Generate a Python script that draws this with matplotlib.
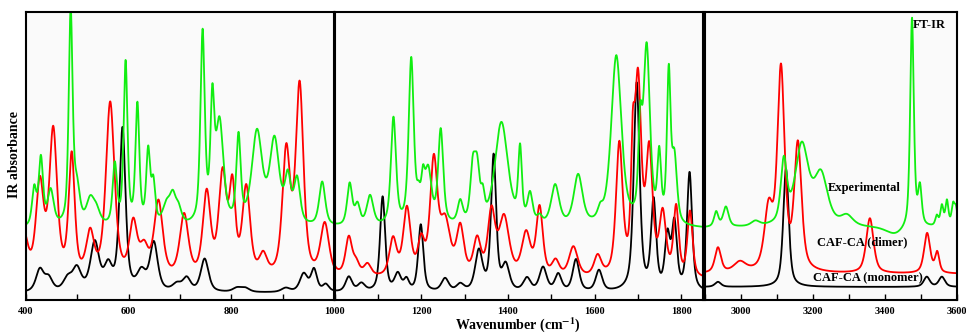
import numpy as np
import matplotlib
matplotlib.use("Agg")
import matplotlib.pyplot as plt

plt.rcParams['font.family'] = ['Liberation Serif', 'DejaVu Serif']
plt.rcParams['font.weight'] = 'bold'
plt.rcParams['mathtext.fontset'] = 'stix'

# panel ranges (cm-1)
panels = [(400, 1000), (1000, 1850), (2900, 3600)]
tick_labels = [[400, 600, 800, 1000], [1200, 1400, 1600, 1800], [3000, 3200, 3400, 3600]]

# peaks: centre (cm-1), height above baseline, half width
exp_pos = [416, 429, 448, 487, 499, 525, 537, 573, 594, 617, 638, 648, 674, 686, 697,
           744, 763, 777, 814, 850, 884, 910, 928, 977,
           1035, 1053, 1082, 1136, 1177, 1194, 1204, 1216, 1245, 1290, 1319, 1329, 1342,
           1385, 1428, 1451, 1473, 1509, 1562, 1613, 1650, 1705, 1720, 1749, 1771, 1784,
           2931, 2958, 3040, 3119, 3169, 3222, 3294, 3428, 3475, 3497, 3544, 3558, 3572, 3589, 3597]
exp_amp = [37, 67, 35, 212, 35, 24, 14, 60, 162, 119, 72, 40, 20, 25, 15,
           190, 110, 100, 85, 92, 83, 44, 44, 44,
           42, 20, 30, 107, 165, 20, 34, 52, 94, 22, 52, 50, 22,
           104, 72, 29, 7, 40, 50, 10, 170, 80, 175, 65, 147, 64,
           15, 20, 5, 62, 80, 50, 10, -8, 210, 37, 10, 20, 25, 20, 17]
exp_wid = [5, 5, 7, 4.5, 7, 9, 9, 5, 4.5, 4.5, 4.5, 4.5, 9, 7, 7,
           5, 4.5, 9, 5, 12, 11, 7, 7, 7,
           7, 7, 9, 7, 7, 5, 5, 9, 7, 7, 7, 7, 5,
           18, 5, 7, 7, 11, 12, 7, 14, 5, 9, 5, 5, 7,
           7, 9, 14, 10, 22, 22, 20, 30, 6, 6, 5, 5, 5, 5, 5]
exp_base = [71, 71, 72]

dim_pos = [395, 427, 453, 489, 525, 564, 609, 630, 658, 708, 752, 783, 802, 829, 862, 907, 933, 982,
           1033, 1050, 1076, 1135, 1167, 1200, 1229, 1255, 1290, 1329, 1362, 1391, 1442, 1473,
           1510, 1551, 1607, 1657, 1688, 1700, 1726, 1757, 1788, 1820,
           2936, 2997, 3077, 3111, 3158, 3358, 3517, 3545]
dim_amp = [45, 92, 145, 120, 42, 175, 52, 27, 75, 62, 83, 100, 85, 88, 20, 123, 190, 53,
           38, 12, 12, 37, 67, 32, 112, 52, 47, 35, 62, 58, 42, 68,
           15, 30, 20, 130, 95, 190, 120, 60, 68, 65,
           25, 10, 60, 200, 125, 55, 40, 20]
dim_wid = [10, 9, 9, 7, 9, 10, 9, 10, 10, 10, 9, 9, 7, 9, 9, 9, 9, 10,
           9, 9, 10, 10, 10, 9, 10, 14, 10, 10, 10, 14, 12, 9,
           10, 12, 10, 9, 5, 9, 9, 9, 7, 7,
           10, 20, 14, 12, 12, 12, 10, 7]
dim_base = [18, 20, 26]

mon_pos = [427, 444, 481, 499, 534, 560, 588, 625, 649, 694, 713, 748, 811, 827, 906, 941, 961, 984,
           1033, 1062, 1111, 1146, 1166, 1199, 1255, 1290, 1333, 1367, 1395, 1444, 1481, 1516,
           1557, 1610, 1697, 1736, 1768, 1784, 1819,
           2936, 3125, 3516, 3558]
mon_amp = [22, 13, 12, 22, 48, 23, 162, 18, 48, 7, 13, 33, 4, 4, 4, 18, 22, 7,
           15, 8, 95, 17, 11, 67, 13, 7, 40, 135, 25, 13, 24, 17,
           32, 21, 208, 88, 52, 65, 118,
           5, 118, 10, 10]
mon_wid = [9, 9, 10, 10, 10, 9, 7, 10, 9, 10, 9, 9, 10, 10, 10, 9, 7, 7,
           9, 10, 7, 9, 7, 7, 10, 10, 10, 7, 10, 10, 10, 9,
           9, 9, 8, 7, 7, 7, 7,
           10, 9, 10, 10]
mon_base = [7, 7, 13]


def spectrum(x, pos, amp, wid, eta=0.6):
    y = np.zeros_like(x)
    for c, h, w in zip(pos, amp, wid):
        d2 = (x - c) ** 2
        y += h * (eta * w ** 2 / (d2 + w ** 2) + (1 - eta) * np.exp(-np.log(2) * d2 / w ** 2))
    return y


fig = plt.figure(figsize=(9.66, 3.34), dpi=100)
boxes = [(26, 334), (334.5, 703), (705, 957)]
W, H = 966, 334
curves = [(mon_pos, mon_amp, mon_wid, mon_base, 'black'),
          (dim_pos, dim_amp, dim_wid, dim_base, '#ff0000'),
          (exp_pos, exp_amp, exp_wid, exp_base, '#11ee11')]

axes = []
for i, ((lo, hi), (x0, x1)) in enumerate(zip(panels, boxes)):
    ax = fig.add_axes([x0 / W, (H - 300) / H, (x1 - x0) / W, 288 / H])
    ax.set_facecolor('#fafafa')
    x = np.linspace(lo, hi, 4000)
    for pos, amp, wid, base, col in curves:
        ax.plot(x, base[i] + spectrum(x, pos, amp, wid), color=col, lw=1.3)
    ax.set_xlim(lo, hi)
    ax.set_ylim(0, 288)
    ax.set_yticks([])
    ax.set_xticks(tick_labels[i])
    ax.set_xticks(np.arange(lo, hi + 1, 100), minor=True)
    ax.tick_params(axis='x', which='both', direction='in', labelsize=7.5, pad=5)
    ax.tick_params(axis='x', which='major', length=4, width=1)
    ax.tick_params(axis='x', which='minor', length=4, width=1)
    for lab in ax.get_xticklabels():
        lab.set_fontweight('bold')
    for s in ax.spines.values():
        s.set_linewidth(1.5)
    axes.append(ax)

axes[1].set_xticks([1000, 1200, 1400, 1600, 1800])
axes[1].set_xticklabels(['', '1200', '1400', '1600', '1800'], fontweight='bold')

ax3 = axes[2]
ax3.text(3478, 275, 'FT-IR', fontsize=9, fontweight='bold', va='center', ha='left')
ax3.text(3242, 112, 'Experimental', fontsize=9, fontweight='bold', va='center', ha='left')
ax3.text(3211, 58, 'CAF-CA (dimer)', fontsize=9, fontweight='bold', va='center', ha='left')
ax3.text(3200, 22, 'CAF-CA (monomer)', fontsize=9, fontweight='bold', va='center', ha='left')

fig.text(15 / W, 1 - 155 / H, 'IR absorbance', rotation=90, fontsize=10,
         fontweight='bold', ha='center', va='center')
fig.text(518 / W, 1 - 325 / H, r'Wavenumber (cm$^{\mathbf{-1}}$)', fontsize=10,
         fontweight='bold', ha='center', va='center')

fig.savefig('out.png', dpi=100, facecolor='white')
